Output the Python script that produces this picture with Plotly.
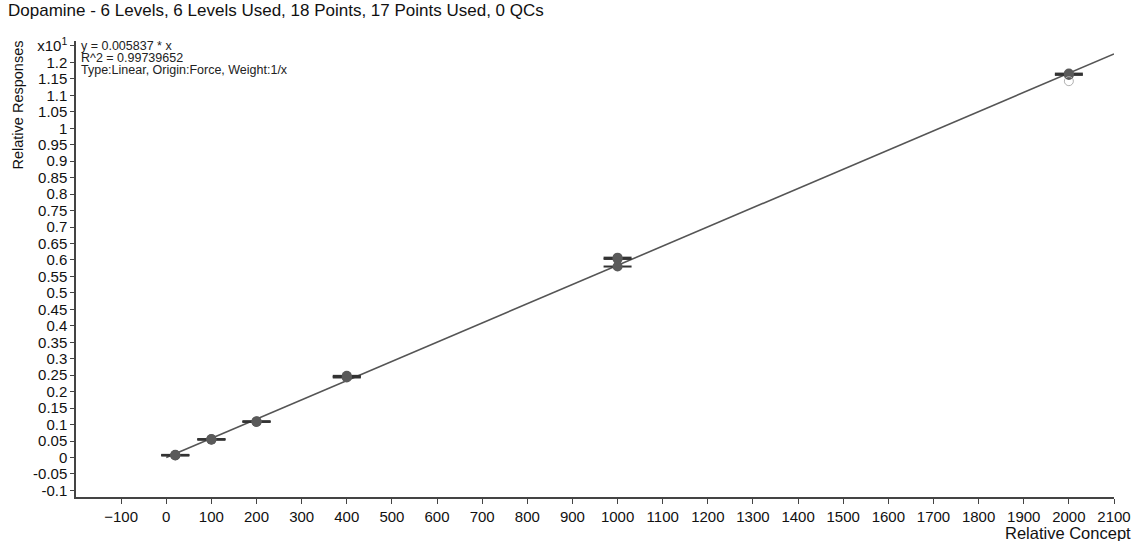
import plotly.graph_objects as go

# ---- data (responses shown in units of x10^1) ----
levels_used = [20, 20, 20, 100, 100, 100, 200, 200, 200, 400, 400, 400,
               1000, 1000, 1000, 2000, 2000]
resp_used = [0.006, 0.008, 0.007, 0.055, 0.056, 0.054, 0.109, 0.110, 0.108,
             0.245, 0.248, 0.243, 0.607, 0.603, 0.580, 1.166, 1.162]
levels_excl = [2000]
resp_excl = [1.143]
slope = 0.005837
fit_x = [0, 2100]
fit_y = [slope * v / 10 for v in fit_x]

xtick_vals = list(range(-100, 2101, 100))
ytick_vals = [round(-0.1 + 0.05 * i, 2) for i in range(28)]
ytick_text = []
for v in ytick_vals:
    if abs(v - 1.25) < 1e-9:
        ytick_text.append("x10<sup>1</sup>")
    else:
        ytick_text.append(("%.2f" % v).rstrip("0").rstrip("."))

fit_lines = ["y = 0.005837 * x", "R^2 = 0.99739652",
             "Type:Linear, Origin:Force, Weight:1/x"]

FONT = "Liberation Sans, Arial, Helvetica, sans-serif"

fig = go.Figure()
fig.add_trace(go.Scatter(x=fit_x, y=fit_y, mode="lines",
                         line=dict(color="#555555", width=1.6),
                         hoverinfo="skip", showlegend=False))
fig.add_trace(go.Scatter(x=levels_used, y=resp_used, mode="markers",
                         marker=dict(symbol="line-ew", size=20,
                                     line=dict(color="#333333", width=2)),
                         showlegend=False))
fig.add_trace(go.Scatter(x=levels_used, y=resp_used, mode="markers",
                         marker=dict(symbol="circle", size=10, color="#5a5a5a",
                                     line=dict(width=0)),
                         showlegend=False))
fig.add_trace(go.Scatter(x=levels_excl, y=resp_excl, mode="markers",
                         marker=dict(symbol="circle-open", size=9,
                                     color="#b0b0b0", line=dict(width=1)),
                         showlegend=False))

axis_font = dict(family=FONT, size=15, color="#111111")
annotations = [
    dict(text="Dopamine - 6 Levels, 6 Levels Used, 18 Points, 17 Points Used, 0 QCs",
         xref="paper", yref="paper", x=0, xshift=-70, y=1.0, yshift=31,
         xanchor="left", yanchor="middle", showarrow=False,
         font=dict(family=FONT, size=17, color="#111")),
    dict(text="Relative Responses", textangle=-90,
         xref="paper", yref="paper", x=0, xshift=-59, y=1.0, yshift=2,
         xanchor="center", yanchor="top", showarrow=False,
         font=dict(family=FONT, size=14.5, color="#111")),
    dict(text="Relative Concept",
         xref="paper", yref="paper", x=1.0, xshift=19, y=0, yshift=-36,
         xanchor="right", yanchor="middle", showarrow=False,
         font=dict(family=FONT, size=16.5, color="#111")),
]
for i, t in enumerate(fit_lines):
    annotations.append(dict(text=t, xref="paper", yref="paper", x=0, xshift=3,
                            y=1.0, yshift=-5 - 12 * i, xanchor="left",
                            yanchor="middle", showarrow=False,
                            font=dict(family=FONT, size=12.5, color="#222")))

fig.update_layout(
    width=1143, height=541,
    margin=dict(l=76, r=24, t=41, b=44),
    paper_bgcolor="white", plot_bgcolor="white",
    font=axis_font,
    xaxis=dict(range=[-200, 2100], tickvals=xtick_vals, ticks="outside",
               ticklen=5, tickcolor="#444", showline=True, linecolor="#444",
               linewidth=1.5, showgrid=False, zeroline=False,
               tickfont=axis_font),
    yaxis=dict(range=[-0.12, 1.265], tickvals=ytick_vals, ticktext=ytick_text,
               ticks="outside", ticklen=4, tickcolor="#444", showline=True,
               linecolor="#444", linewidth=1.5, showgrid=False, zeroline=False,
               tickfont=axis_font),
    annotations=annotations,
)

fig.write_html("out.html", config={"displayModeBar": False},
               post_script="document.body.style.margin='0';document.body.style.overflow='hidden';")
